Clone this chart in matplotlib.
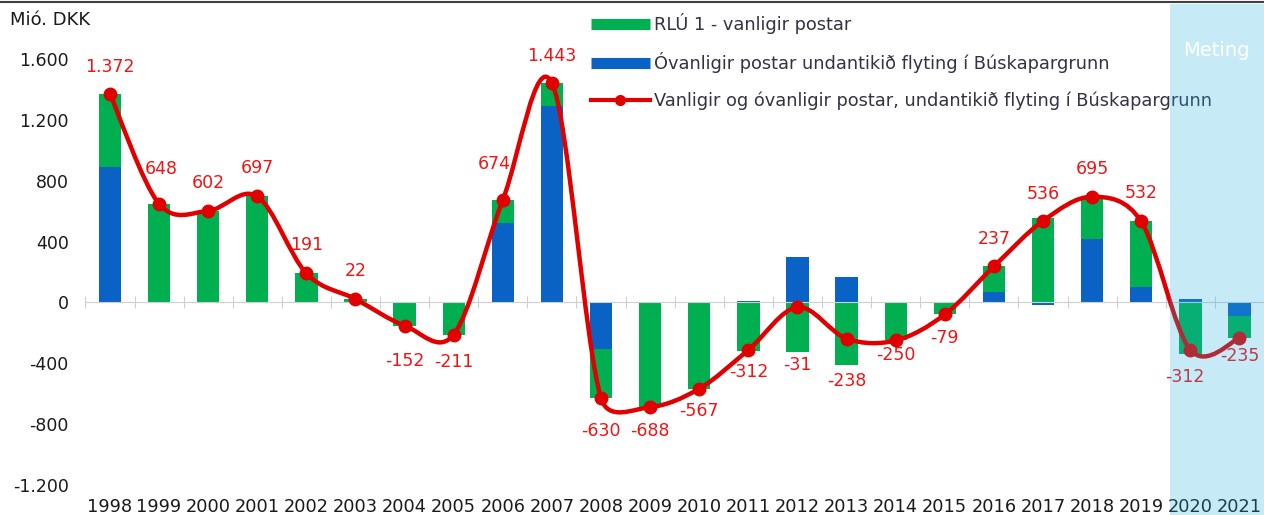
import numpy as np
import matplotlib
matplotlib.use("Agg")
import matplotlib.pyplot as plt
from matplotlib.lines import Line2D
from matplotlib.path import Path
from matplotlib.patches import PathPatch, Rectangle

years = list(range(1998, 2022))
# Óvanligir postar (blue) and RLÚ 1 - vanligir postar (green), Mió. DKK
blue = [893, 0, 0, 0, 0, 0, 0, 0, 521, 1288, -304, 0, 0, 10, 298, 170,
        0, 0, 68, -20, 416, 100, 25, -90]
green = [479, 648, 602, 697, 191, 22, -152, -211, 153, 155, -326, -688,
         -567, -322, -329, -408, -250, -79, 169, 556, 279, 432, -337, -145]
total = [1372, 648, 602, 697, 191, 22, -152, -211, 674, 1443, -630, -688,
         -567, -312, -31, -238, -250, -79, 237, 536, 695, 532, -312, -235]
yticks = [-1200, -800, -400, 0, 400, 800, 1200, 1600]

# label offsets in pixels (dx, dy), as placed in the original
label_off = [(0, 27), (2, 35), (0, 28), (0, 28), (0, 28), (0, 28), (0, -35),
             (0, -27), (-9, 36), (0, 27), (0, -33), (0, -24), (0, -22),
             (0, -22), (0, -58), (0, -42), (0, -15), (0, -24), (0, 27),
             (0, 27), (0, 28), (0, 28), (-6, -27), (0, -18)]

GREEN = "#00b050"
BLUE = "#0a62c4"
RED = "#e00000"
LBL = "#f01414"


def fmt(v):
    return f"{v:,}".replace(",", ".")


fig = plt.figure(figsize=(12.64, 5.15), dpi=100)
ax = fig.add_axes([85.4 / 1264, 1 - 485 / 515, 1 - 85.4 / 1264, (485 - 59) / 515])
x = np.arange(len(years))
ax.set_xlim(-0.5, 23.43)
ax.set_ylim(-1200, 1600)

blue_a = np.array(blue)
green_a = np.array(green)
same_sign = ((green_a >= 0) & (blue_a >= 0)) | ((green_a < 0) & (blue_a < 0))
g_bottom = np.where(same_sign, blue_a, 0)

ax.bar(x, blue, width=0.455, color=BLUE, zorder=2)
ax.bar(x, green, width=0.455, bottom=g_bottom, color=GREEN, zorder=2)

# smoothed line, Excel style bezier
pts = ax.transData.transform(np.column_stack([x, total]))
n = len(pts)
verts = [pts[0]]
codes = [Path.MOVETO]
for i in range(n - 1):
    p0 = pts[i - 1] if i > 0 else pts[i]
    p1 = pts[i]
    p2 = pts[i + 1]
    p3 = pts[i + 2] if i + 2 < n else pts[i + 1]
    seg = np.hypot(*(p2 - p1))
    t1 = (p2 - p0) / 6
    t2 = (p3 - p1) / 6
    if np.hypot(*t1) > seg / 2:
        t1 = t1 / np.hypot(*t1) * seg / 2
    if np.hypot(*t2) > seg / 2:
        t2 = t2 / np.hypot(*t2) * seg / 2
    verts += [p1 + t1, p2 - t2, p2]
    codes += [Path.CURVE4] * 3
data_verts = ax.transData.inverted().transform(np.array(verts))
ax.add_patch(PathPatch(Path(data_verts, codes), fill=False, edgecolor=RED,
                       lw=3.2, zorder=3, capstyle="round", joinstyle="round"))
ax.plot(x, total, "o", color=RED, markersize=9, zorder=4)

for xi, v, (dx, dy) in zip(x, total, label_off):
    ax.annotate(fmt(v), (xi, v), xytext=(dx, dy), textcoords="offset pixels",
                ha="center", va="center", color=LBL, fontsize=12.5, zorder=5)

# axes styling
for s in ["top", "right", "left"]:
    ax.spines[s].set_visible(False)
ax.spines["bottom"].set_position(("data", 0))
ax.spines["bottom"].set_color("#cfcfcf")
ax.set_xticks(np.arange(-0.5, 24, 1))
ax.set_xticklabels([])
ax.tick_params(axis="x", direction="inout", length=9, color="#cfcfcf")
ax.set_yticks(yticks)
ax.set_yticklabels([fmt(v) for v in yticks])
ax.tick_params(axis="y", length=0, pad=12, labelsize=12.5, labelcolor="#1a1a1a")

sec = ax.secondary_xaxis(0)
sec.set_xticks(x)
sec.set_xticklabels([str(y) for y in years])
sec.tick_params(length=0, pad=9, labelsize=12.8, labelcolor="#1a1a1a")
sec.spines["bottom"].set_visible(False)

fig.text(10 / 1264, 1 - 20 / 515, "Mió. DKK", fontsize=13, color="#1a1a1a",
         va="center", ha="left")

handles = [
    Line2D([], [], color=GREEN, lw=8, solid_capstyle="butt"),
    Line2D([], [], color=BLUE, lw=8, solid_capstyle="butt"),
    Line2D([], [], color=RED, lw=3, marker="o", markersize=7),
]
labels = [
    "RLÚ 1 - vanligir postar",
    "Óvanligir postar undantikið flyting í Búskapargrunn",
    "Vanligir og óvanligir postar, undantikið flyting í Búskapargrunn",
]
fig.legend(handles, labels, loc="upper left",
           bbox_to_anchor=(582 / 1264, 1 - 4 / 515), frameon=False,
           fontsize=12.8, handlelength=3.3, handletextpad=0.25,
           labelspacing=1.03, borderpad=0, labelcolor="#333344")

# top border
fig.add_artist(Line2D([0, 1], [1 - 1.5 / 515, 1 - 1.5 / 515],
                      color="#404040", lw=1.5, transform=fig.transFigure))

# estimate area (Meting)
fig.add_artist(Rectangle((1170 / 1264, 0), 1 - 1170 / 1264, 1 - 4 / 515,
                         transform=fig.transFigure, facecolor="#23afe3",
                         alpha=0.25, edgecolor="none", zorder=10))
fig.text(1216 / 1264, 1 - 50 / 515, "Meting", color="white", fontsize=14,
         ha="center", va="center", zorder=11)

fig.savefig("out.png", dpi=100)
